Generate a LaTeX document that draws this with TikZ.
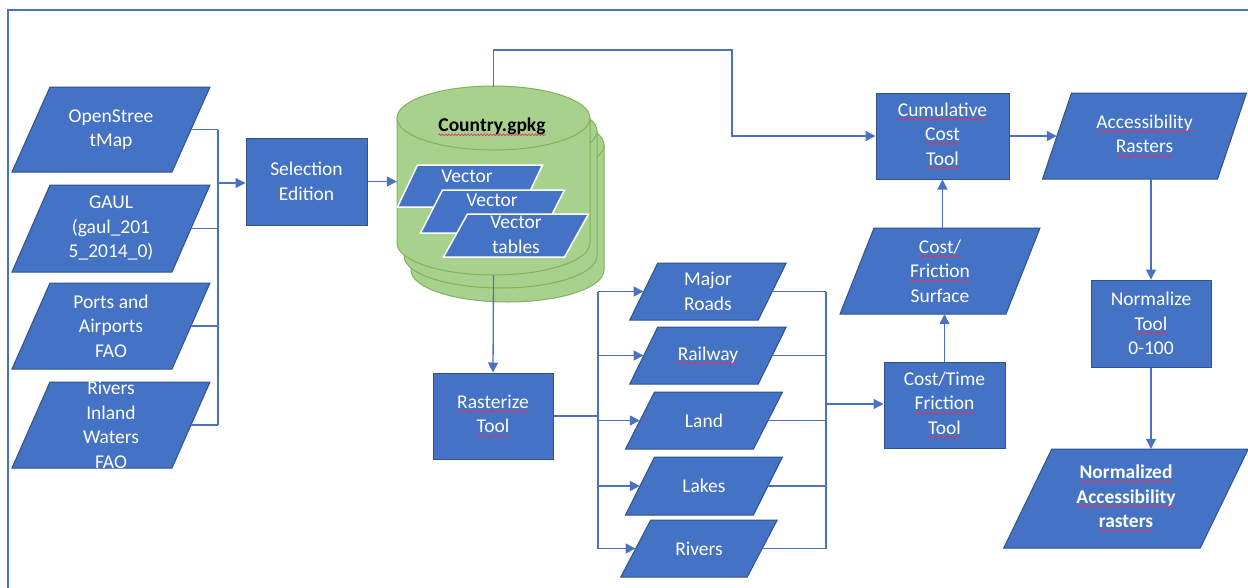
\documentclass[tikz,border=0pt]{standalone}
\usepackage{fontspec}
\setmainfont{Carlito}
\usetikzlibrary{arrows.meta,calc,decorations.pathmorphing}
\definecolor{bF}{HTML}{4472C4}
\definecolor{bD}{HTML}{2F528F}
\definecolor{gF}{HTML}{A9D18E}
\definecolor{gD}{HTML}{7FB35A}
\definecolor{lnC}{HTML}{4A72C0}
\definecolor{sqC}{HTML}{D23C64}
\newcommand\sq[1]{\tikz[baseline=(w.base)]{\node[inner sep=0pt,outer sep=0pt,draw=none,fill=none,minimum size=0pt,shape=rectangle,anchor=center](w){#1};\draw[sqC, line width=0.7pt, decorate, decoration={snake, amplitude=0.9pt, segment length=3.2pt}] ([yshift=-3.2pt]w.base west) -- ([yshift=-3.2pt]w.base east);}}
\tikzset{
 txt/.style={inner sep=0pt, align=center, text=white, font=\fontsize{19.5}{24.5}\selectfont},
 pshape/.style={fill=bF, draw=bD, line width=1pt},
 box/.style={txt, fill=bF, draw=bD, line width=1pt},
 conn/.style={draw=lnC, line width=1.3pt},
 arr/.style={conn, -{Triangle[length=10pt,width=10pt]}},
 frameline/.style={draw=bF, line width=2.2pt},
 cylline/.style={draw=gD, line width=1pt, fill=gF},
}
% [shape opts]{name}{cx,cy}{mid width}{height}{half skew}{text}
\newcommand\para[7][]{%
  \filldraw[pshape,#1] ($(#3)+({-(#4)/2-(#6)},{(#5)/2})$) -- ($(#3)+({(#4)/2-(#6)},{(#5)/2})$) -- ($(#3)+({(#4)/2+(#6)},{-(#5)/2})$) -- ($(#3)+({-(#4)/2+(#6)},{-(#5)/2})$) -- cycle;
  \node[txt, minimum width=#4, minimum height=#5] (#2) at (#3) {#7};
}
\newcommand\cyl[2]{%
 \begin{scope}[shift={(#1,#2)}]
  \fill[gF] (397,118) rectangle (590,243);
  \draw[cylline] (397,118) -- (397,243) arc[start angle=180,end angle=0,x radius=96.5,y radius=32] -- (590,118);
  \draw[cylline] (493.5,118) ellipse [x radius=96.5, y radius=32];
 \end{scope}}
\begin{document}
\begin{tikzpicture}[x=1pt,y=-1pt]
\useasboundingbox (0,0) rectangle (1248,587);
\fill[white] (0,0) rectangle (1248,587);
\draw[frameline] (8,590) -- (8,10) -- (1250,10);

% inputs
\para{osm}{111,129.5}{160}{85}{19}{OpenStree\\tMap}
\para{gaul}{111,228.5}{160}{87}{19}{GAUL\\(gaul\_201\\5\_2014\_0)}
\para{ports}{111,326}{160}{86}{19}{Ports and\\Airports\\FAO}
\para{rivin}{111,425}{160}{86}{19}{Rivers\\Inland\\Waters\\FAO}

\node[box, minimum width=121, minimum height=87] (sel) at (306.5,181.5) {Selection\\Edition};

% database
\cyl{14}{27}
\cyl{7}{13}
\cyl{0}{0}
\node[inner sep=0pt, minimum width=193, minimum height=188] (db) at (493.5,181) {};
\node[inner sep=0pt, font=\bfseries\fontsize{19.5}{24.5}\selectfont] (cg) at (492,127) {\sq{Country.gpkg}};
\para[draw=white, line width=1.5pt]{v1}{470,186}{125}{42}{10}{}
\node[txt] (v1t) at (467,176) {Vector};
\para[draw=white, line width=1.5pt]{v2}{492.5,211.5}{122}{43}{11}{}
\node[txt] (v2t) at (492,200) {Vector};
\para[draw=white, line width=1.5pt]{v3}{516,235.5}{121}{43}{12}{}
\node[txt] (v3t) at (516,235) {Vector\\tables};

\node[box, minimum width=120, minimum height=86] (ras) at (493,416) {\sq{Rasterize}\\\sq{Tool}};

% layers
\para{mr}{708,291.5}{128.5}{57}{14}{Major\\Roads}
\para{rw}{708,355.5}{128.5}{57}{14}{\sq{Railway}}
\para{ld}{704,420.5}{128}{57}{14.5}{Land}
\para{lk}{704,486}{128}{58}{14.5}{Lakes}
\para{rv}{699,548.5}{126.5}{57}{15}{Rivers}

\node[box, minimum width=121, minimum height=86] (ct) at (944.5,405) {Cost/Time\\\sq{Friction}\\\sq{Tool}};
\para{fs}{940,271}{166}{86}{17}{\sq{Cost/}\\\sq{Friction}\\Surface}
\node[box, minimum width=133, minimum height=86] (cum) at (942.5,136) {\sq{Cumulative}\\\sq{Cost}\\\sq{Tool}};
\para{acc}{1144.5,136}{175}{86}{14.5}{\sq{Accessibility}\\\sq{Rasters}}
\node[box, minimum width=120, minimum height=87] (nor) at (1151,323.5) {Normalize\\\sq{Tool}\\0-100};
\para{nar}{1126,498.5}{196.5}{99}{24}{\textbf{\sq{Normalized}}\\\textbf{\sq{Accessibility}}\\\textbf{\sq{rasters}}}

% connectors
\coordinate (busL) at (218,183);
\foreach \n in {osm,gaul,ports,rivin} \draw[conn] (\n.east) -- (\n.east -| busL);
\draw[conn] (osm.east -| busL) -- (rivin.east -| busL);
\draw[arr] (busL) -- (busL -| sel.west);
\draw[arr] (sel.east) -- (sel.east -| db.west);
\draw[arr] (db.south) -- (ras.north);
\coordinate (busM) at (598,416);
\draw[conn] (ras.east) -- (ras.east -| busM);
\draw[conn] (mr.west -| busM) -- (rv.west -| busM);
\foreach \n in {mr,rw,ld,lk,rv} \draw[arr] (\n.west -| busM) -- (\n.west);
\coordinate (busR) at (826,404);
\foreach \n in {mr,rw,ld,lk,rv} \draw[conn] (\n.east) -- (\n.east -| busR);
\draw[conn] (mr.east -| busR) -- (rv.east -| busR);
\draw[arr] (busR) -- (busR -| ct.west);
\draw[arr] (ct.north) -- (ct.north |- fs.south);
\draw[arr] (cum.south |- fs.north) -- (cum.south);
\coordinate (k1) at (732,50);
\draw[arr] (db.north) |- (k1) |- (cum.west);
\draw[arr] (cum.east) -- (cum.east -| acc.west);
\draw[arr] (nor.north |- acc.south) -- (nor.north);
\draw[arr] (nor.south) -- (nor.south |- nar.north);
\end{tikzpicture}
\end{document}
